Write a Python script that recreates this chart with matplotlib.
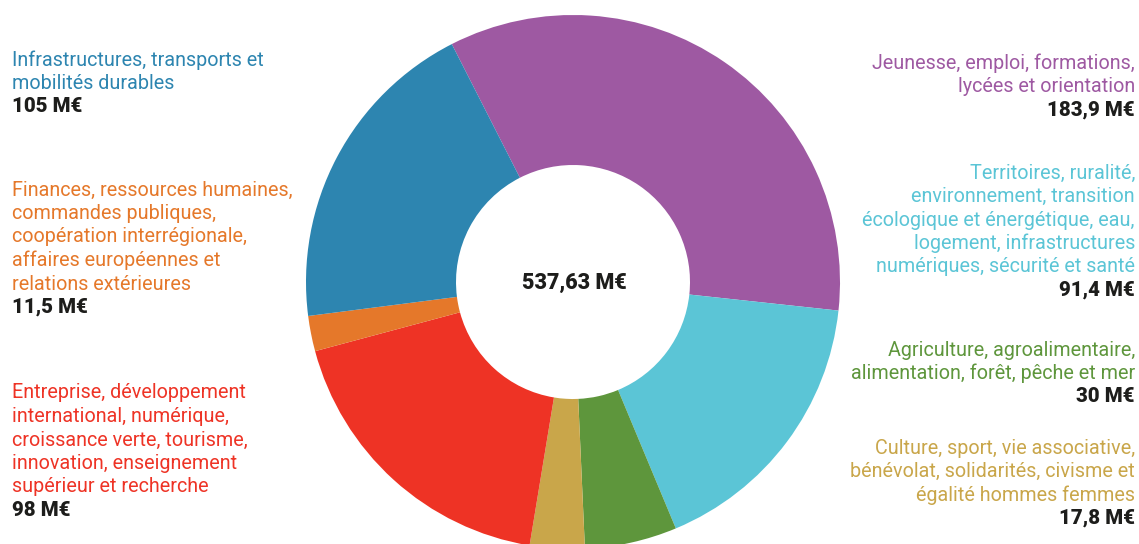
import matplotlib
matplotlib.use("Agg")
import matplotlib.pyplot as plt

# ---- data ----
categories = [
    "Jeunesse, emploi, formations,\nlycées et orientation",
    "Territoires, ruralité,\nenvironnement, transition\nécologique et énergétique, eau,\nlogement, infrastructures\nnumériques, sécurité et santé",
    "Agriculture, agroalimentaire,\nalimentation, forêt, pêche et mer",
    "Culture, sport, vie associative,\nbénévolat, solidarités, civisme et\négalité hommes femmes",
    "Entreprise, développement\ninternational, numérique,\ncroissance verte, tourisme,\ninnovation, enseignement\nsupérieur et recherche",
    "Finances, ressources humaines,\ncommandes publiques,\ncoopération interrégionale,\naffaires européennes et\nrelations extérieures",
    "Infrastructures, transports et\nmobilités durables",
]
values = [183.9, 91.4, 30, 17.8, 98, 11.5, 105]
value_labels = ["183,9 M€", "91,4 M€", "30 M€", "17,8 M€", "98 M€", "11,5 M€", "105 M€"]
total_label = "537,63 M€"
colors = ["#9e59a2", "#5bc5d6", "#5e963c", "#c9a64a", "#ee3325", "#e5782a", "#2d85b0"]

plt.rcParams["font.family"] = ["Roboto", "DejaVu Sans"]

W, H = 1139, 544
fig = plt.figure(figsize=(W / 100, H / 100), dpi=100)
ax = fig.add_axes([0, 0, 1, 1])

cx, cy, R, r = 573, 282, 267, 117
ax.pie(values, colors=colors, startangle=-117, counterclock=True,
       center=(cx, cy), radius=R, frame=True,
       wedgeprops=dict(width=R - r, linewidth=0))
ax.set_xlim(0, W)
ax.set_ylim(H, 0)
ax.set_aspect("equal")
ax.axis("off")

ax.text(cx + 1, 283, total_label, ha="center", va="center", fontsize=15.5,
        fontweight=900, color="#1d1d1b")

fs = 14.2
lh = 23.5
# (category index, x, first line center y, ha)
layout = [
    (0, 1135, 63, "right"),
    (1, 1135, 173, "right"),
    (2, 1135, 350, "right"),
    (3, 1135, 448, "right"),
    (4, 12, 393, "left"),
    (5, 12, 190, "left"),
    (6, 12, 60, "left"),
]
for i, x, y0, ha in layout:
    lines = categories[i].split("\n")
    for k, line in enumerate(lines):
        ax.text(x, y0 + k * lh, line, ha=ha, va="center", fontsize=fs, color=colors[i])
    ax.text(x, y0 + len(lines) * lh, value_labels[i], ha=ha, va="center", fontsize=fs + 0.5,
            fontweight=900, color="#1d1d1b")

fig.savefig("out.png", dpi=100)
